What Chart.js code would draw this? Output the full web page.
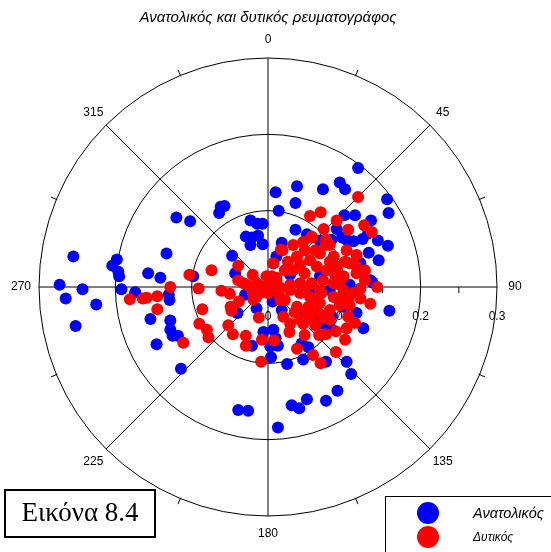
<!DOCTYPE html>
<html>
<head>
<meta charset="utf-8">
<script src="https://cdn.jsdelivr.net/npm/chart.js@4"></script>
<style>
  html, body { margin: 0; padding: 0; background: #fff; }
  canvas { display: block; }
</style>
</head>
<body>
<canvas id="myChart" width="551" height="552"></canvas>
<script>
// current velocity components (m/s): u = east, v = north
const eastMeterU = [
  -0.255, -0.273, -0.265, -0.243, -0.225, -0.252, -0.198, -0.204, -0.196, -0.195,
  -0.192, -0.174, -0.157, -0.141, -0.133, -0.120, -0.102, -0.130, -0.129, -0.154,
  -0.128, -0.128, -0.125, -0.118, -0.146, -0.114, -0.062, -0.057, -0.064, -0.023,
  -0.014, -0.007, -0.029, -0.021, -0.013, -0.023, -0.007, -0.047, -0.043, -0.098,
  -0.040, -0.015, -0.006, -0.021, 0.003, 0.007, 0.010, -0.030, 0.006, -0.039,
  -0.026, 0.013, 0.031, 0.041, 0.051, 0.076, 0.091, 0.103, 0.109, 0.025,
  0.046, 0.004, 0.053, 0.044, 0.013, 0.076, 0.125, 0.070, 0.077, 0.159,
  0.116, 0.099, 0.083, 0.064, 0.018, 0.137, 0.064, 0.081, 0.048, 0.094,
  0.068, 0.134, 0.118, 0.038, 0.010, 0.072, 0.094, 0.101, 0.036, 0.014,
  0.156, 0.158, 0.100, 0.114, 0.135, 0.036, 0.051, 0.090, 0.144, 0.157,
  0.145, 0.132, 0.124, 0.103, 0.112, 0.097, 0.083, 0.068, 0.018, 0.011,
  0.007, 0.131, 0.121, 0.081, 0.107, 0.055, 0.029
];
const eastMeterV = [
  0.040, 0.003, -0.015, -0.003, -0.023, -0.051, 0.036, 0.028, 0.020, 0.014,
  -0.003, -0.007, 0.018, 0.012, 0.044, 0.091, 0.086, -0.010, -0.017, -0.042,
  -0.044, -0.056, -0.064, -0.064, -0.075, -0.107, 0.105, 0.106, 0.097, 0.087,
  0.083, 0.083, 0.066, 0.065, 0.067, 0.055, 0.056, 0.041, 0.018, 0.014,
  -0.034, -0.028, -0.059, -0.077, -0.078, -0.056, -0.067, -0.010, -0.019, -0.161,
  -0.162, -0.184, -0.155, -0.159, -0.147, -0.149, -0.136, -0.098, -0.114, -0.101,
  -0.095, -0.092, -0.079, -0.074, -0.077, -0.098, -0.054, -0.048, -0.037, -0.031,
  -0.034, -0.026, -0.038, -0.034, -0.030, 0.006, -0.043, -0.052, -0.037, 0.014,
  0.014, 0.009, 0.156, 0.132, 0.124, 0.128, 0.137, 0.128, 0.110, 0.100,
  0.115, 0.097, 0.094, 0.094, 0.087, 0.075, 0.069, 0.076, 0.061, 0.054,
  0.035, 0.045, 0.063, 0.062, 0.060, 0.065, 0.062, 0.061, 0.058, 0.040,
  0.031, 0.070, 0.031, -0.004, 0.003, -0.004, 0.016
];
const westMeterU = [
  -0.103, -0.074, -0.128, -0.091, -0.181, -0.164, -0.159, -0.145, -0.145, -0.111,
  -0.086, -0.090, -0.080, -0.078, -0.061, -0.050, -0.049, -0.048, -0.039, -0.039,
  -0.032, -0.026, -0.038, -0.020, -0.019, -0.012, -0.052, -0.046, -0.029, -0.029,
  -0.009, -0.008, 0.008, 0.007, -0.002, 0.011, -0.006, 0.007, -0.015, -0.015,
  0.000, 0.014, 0.003, 0.033, 0.046, 0.057, 0.076, 0.019, 0.038, 0.055,
  0.068, 0.086, 0.103, 0.116, 0.107, 0.033, 0.048, 0.064, 0.077, 0.090,
  0.099, 0.116, 0.127, 0.042, 0.057, 0.072, 0.086, 0.099, 0.112, 0.121,
  0.143, 0.042, 0.055, 0.070, 0.086, 0.038, 0.053, 0.068, 0.081, 0.105,
  0.121, 0.134, 0.042, 0.064, 0.072, 0.020, 0.029, 0.105, 0.114, 0.028,
  0.048, 0.038, 0.059, 0.069, 0.067, 0.076, 0.089, 0.089, 0.103, 0.101,
  0.046, 0.051, 0.066, 0.118, 0.055, 0.069, 0.090, 0.126, 0.136, 0.105,
  0.073, 0.058, 0.017, 0.026, 0.022, 0.029, 0.094, 0.062, 0.081, 0.048,
  -0.020, 0.011, 0.042, 0.062, 0.081, 0.101, 0.029, 0.068, 0.094, 0.055,
  0.081, 0.035, 0.094, 0.114, 0.022, 0.016, 0.075, 0.107, 0.127, 0.062,
  0.088, 0.048, -0.008, 0.016, 0.005
];
const westMeterV = [
  0.016, 0.022, 0.000, -0.002, -0.016, -0.015, -0.014, -0.012, -0.029, -0.073,
  -0.029, -0.048, -0.056, -0.066, -0.005, -0.009, -0.026, -0.031, 0.028, 0.009,
  0.005, 0.002, -0.019, -0.008, -0.016, -0.040, -0.050, -0.062, -0.064, -0.077,
  -0.098, -0.069, -0.070, 0.031, 0.014, 0.009, 0.000, -0.004, 0.005, -0.013,
  -0.008, -0.008, 0.007, 0.055, 0.059, 0.066, 0.062, 0.048, 0.040, 0.035,
  0.044, 0.040, 0.048, 0.042, 0.031, 0.022, 0.018, 0.027, 0.022, 0.027,
  0.014, 0.018, 0.022, 0.005, 0.005, 0.009, 0.005, -0.004, -0.008, -0.002,
  0.000, -0.008, -0.013, -0.008, -0.013, -0.026, -0.026, -0.021, -0.030, -0.017,
  -0.015, -0.022, -0.043, -0.032, -0.041, -0.039, -0.048, -0.039, -0.047, -0.059,
  -0.063, -0.081, -0.089, -0.100, -0.063, -0.062, -0.058, -0.085, -0.054, -0.069,
  -0.048, -0.032, -0.034, 0.118, 0.093, 0.098, 0.087, 0.081, 0.072, 0.075,
  0.076, 0.065, 0.049, 0.033, -0.017, 0.003, -0.024, -0.050, 0.055, 0.048,
  0.016, 0.012, 0.029, 0.048, 0.033, 0.033, -0.004, -0.004, -0.014, -0.043,
  -0.043, -0.033, 0.003, 0.029, 0.022, -0.017, 0.055, -0.024, 0.009, -0.017,
  0.016, -0.004, -0.007, -0.001, 0.014
];

const ringValues = [0.1, 0.2, 0.3];
const radiusLabels = ['0', '0.1', '0.2', '0.3'];
const radiusLabelValues = [0, 0.1, 0.2, 0.3];
const spokeAngles = [0, 45, 90, 135, 180, 225, 270, 315];
const minorAngles = [22.5, 67.5, 112.5, 157.5, 202.5, 247.5, 292.5, 337.5];
const radialTicks = [0.05, 0.15, 0.25];

const titleText = 'Ανατολικός και δυτικός ρευματογράφος';
const seriesNames = ['Ανατολικός', 'Δυτικός'];
const figureText = 'Εικόνα 8.4';
const maxSpeed = 0.3;

const sans = '"Liberation Sans", Arial, sans-serif';

// compass bearing: 0 at top, clockwise
function polarPx(chart, deg, r, extra = 0) {
  const { x, y } = chart.scales;
  const cx = x.getPixelForValue(0), cy = y.getPixelForValue(0);
  const R = x.getPixelForValue(r) - cx + extra;
  const a = deg * Math.PI / 180;
  return [cx + R * Math.sin(a), cy - R * Math.cos(a)];
}

const polarGrid = {
  id: 'polarGrid',
  beforeDatasetsDraw(chart) {
    const { ctx, scales: { x, y } } = chart;
    const cx = x.getPixelForValue(0), cy = y.getPixelForValue(0);
    const px = v => x.getPixelForValue(v) - cx;
    ctx.save();
    ctx.strokeStyle = '#000';
    ctx.lineWidth = 1;

    ringValues.forEach(v => {
      ctx.beginPath();
      ctx.arc(cx, cy, px(v), 0, Math.PI * 2);
      ctx.stroke();
    });

    spokeAngles.forEach(deg => {
      const [x1, y1] = polarPx(chart, deg, maxSpeed);
      ctx.beginPath();
      ctx.moveTo(cx, cy);
      ctx.lineTo(x1, y1);
      ctx.stroke();
    });

    minorAngles.forEach(deg => {
      const [x0, y0] = polarPx(chart, deg, maxSpeed, -1);
      const [x1, y1] = polarPx(chart, deg, maxSpeed, 6);
      ctx.beginPath();
      ctx.moveTo(x0, y0);
      ctx.lineTo(x1, y1);
      ctx.stroke();
    });

    radialTicks.forEach(v => {
      ctx.beginPath();
      ctx.moveTo(cx + px(v), cy);
      ctx.lineTo(cx + px(v), cy + 6);
      ctx.stroke();
    });

    ctx.fillStyle = '#000';
    ctx.font = '12px ' + sans;
    ctx.textAlign = 'center';
    ctx.textBaseline = 'middle';
    radiusLabels.forEach((t, i) => {
      ctx.fillText(t, cx + px(radiusLabelValues[i]), cy + 30);
    });

    spokeAngles.forEach(deg => {
      const [lx, ly] = polarPx(chart, deg, maxSpeed, 18);
      ctx.fillText(String(deg), lx, ly);
    });

    ctx.font = 'italic 15px ' + sans;
    ctx.fillText(titleText, cx, 18);
    ctx.restore();
  },
  afterDraw(chart) {
    const { ctx } = chart;
    ctx.save();
    // figure caption box
    ctx.strokeStyle = '#000';
    ctx.lineWidth = 2;
    ctx.strokeRect(5, 490, 150, 47);
    ctx.fillStyle = '#000';
    ctx.font = '27px "Liberation Serif", "Times New Roman", serif';
    ctx.textAlign = 'center';
    ctx.textBaseline = 'middle';
    ctx.fillText(figureText, 80, 514);

    // legend
    ctx.lineWidth = 1;
    ctx.strokeRect(385.5, 496.5, 200, 80);
    const colors = ['#0000ff', '#ff0000'];
    const rows = [513, 537];
    const sizes = [14.5, 12];
    rows.forEach((ry, i) => {
      ctx.fillStyle = colors[i];
      ctx.beginPath();
      ctx.arc(428, ry, 11, 0, Math.PI * 2);
      ctx.fill();
      ctx.fillStyle = '#000';
      ctx.textAlign = 'left';
      ctx.font = 'italic ' + sizes[i] + 'px ' + sans;
      ctx.fillText(seriesNames[i], 473, ry + 1);
    });
    ctx.restore();
  }
};

const toPoints = (us, vs) => us.map((u, i) => ({ x: u, y: vs[i] }));

const config = {
  type: 'scatter',
  data: {
    datasets: [{
      label: seriesNames[0],
      data: toPoints(eastMeterU, eastMeterV),
      backgroundColor: '#0000ff',
      borderWidth: 0,
      pointRadius: 6,
      order: 1,
    }, {
      label: seriesNames[1],
      data: toPoints(westMeterU, westMeterV),
      backgroundColor: '#ff0000',
      borderWidth: 0,
      pointRadius: 6,
      order: 0,
    }]
  },
  options: {
    responsive: false,
    animation: false,
    devicePixelRatio: 1,
    events: [],
    layout: { padding: { left: 39, right: 54, top: 58, bottom: 36 } },
    scales: {
      x: { type: 'linear', min: -maxSpeed, max: maxSpeed, display: false },
      y: { type: 'linear', min: -maxSpeed, max: maxSpeed, display: false },
    },
    plugins: {
      legend: { display: false },
      tooltip: { enabled: false },
    },
  },
  plugins: [polarGrid],
};

const myChart = new Chart(document.getElementById('myChart'), config);
</script>
</body>
</html>
